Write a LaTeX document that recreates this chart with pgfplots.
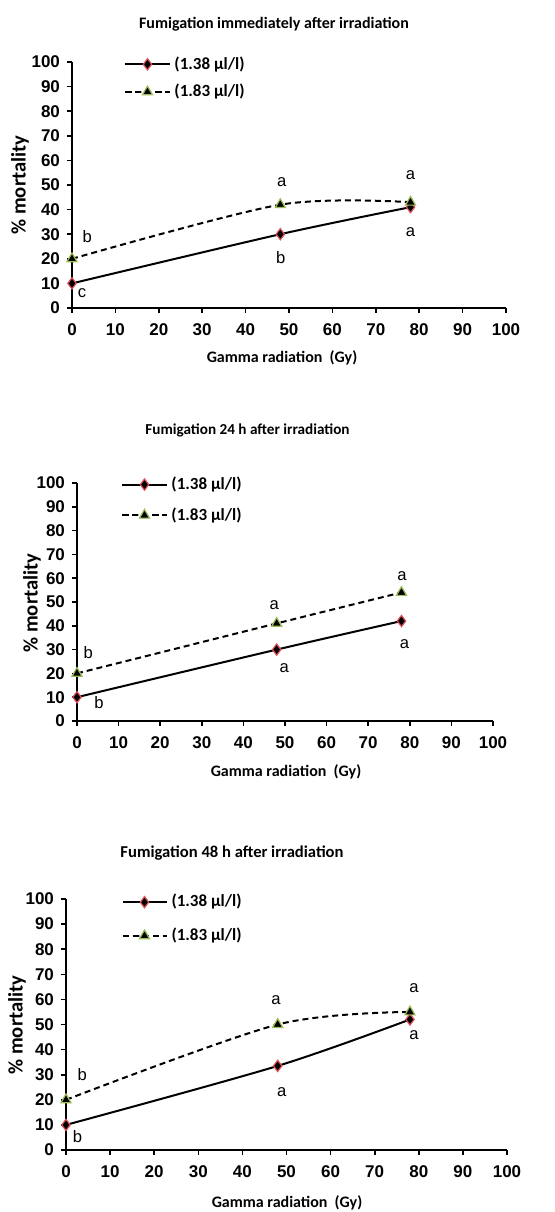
\documentclass[border=0pt]{standalone}
\usepackage{fontspec}
\setmainfont{Carlito}
\newfontfamily\arial{Liberation Sans}
\usepackage{pgfplots}
\pgfplotsset{compat=1.18}

\definecolor{diamedge}{HTML}{E0505A}
\definecolor{triedge}{HTML}{9BBB59}

\pgfplotsset{
  mortality/.style={
    scale only axis,
    anchor=south west,
    xmin=0, xmax=100, ymin=0, ymax=100,
    xtick={0,10,...,100}, ytick={0,10,...,100},
    axis x line*=bottom, axis y line*=left,
    axis line style={line width=1pt, -},
    tick style={line width=0.8pt, black},
    tick align=outside,
    major tick length=2.5pt,
    clip=false,
    /pgf/number format/assume math mode=true,
    tick label style={font=\arial\bfseries\fontsize{8.5}{10}\selectfont},
    xticklabel style={yshift=-2pt},
    legend cell align=left,
    legend style={draw=none, fill=none, font=\bfseries\fontsize{8.5}{10}\selectfont,
      inner sep=0pt, nodes={inner xsep=2pt, inner ysep=0.5pt}},
    legend image code/.code={
      \draw[mark repeat=2,mark phase=2] plot coordinates {(0pt,0pt)(11pt,0pt)(22pt,0pt)};},
  },
  low/.style={black, line width=1pt, smooth, mark=diamond*, mark size=2.8pt,
    mark options={solid, fill=black, draw=diamedge, line width=0.6pt}},
  high/.style={black, line width=1pt, smooth, dash pattern=on 3pt off 2pt, mark=triangle*, mark size=2.9pt,
    mark options={solid, fill=black, draw=triedge, line width=0.6pt}},
}
\newcommand{\lett}[1]{\arial\fontsize{8.3}{9}\selectfont #1}

\begin{document}
\begin{tikzpicture}
\useasboundingbox (0,0) rectangle (277.5pt,606pt);

% ---- panel 1: immediately after irradiation
\node[font=\bfseries\fontsize{8}{9}\selectfont] at (137pt,594pt) {Fumigation immediately after irradiation};
\node[font=\bfseries\fontsize{8}{9}\selectfont] at (141pt,427pt) {Gamma radiation\ \ (Gy)};
\node[font=\bfseries\fontsize{10.3}{11}\selectfont, rotate=90] at (10pt,513.5pt) {\% mortality};
\begin{axis}[mortality, at={(36pt,452pt)}, width=217pt, height=123pt,
  legend style={at={(0.12,1.028)}, anchor=north west, row sep=5pt}]
\addplot[low] coordinates {(0,10) (48,30) (78,41)};
\addlegendentry{(1.38 µl/l)}
\addplot[high] coordinates {(0,20) (48,42) (78,43)};
\addlegendentry{(1.83 µl/l)}
\node at (axis cs:3.5,29) {\lett{b}};
\node at (axis cs:2.3,6) {\lett{c}};
\node at (axis cs:48.3,51) {\lett{a}};
\node at (axis cs:48.1,20.3) {\lett{b}};
\node at (axis cs:78,54) {\lett{a}};
\node at (axis cs:78,31) {\lett{a}};
\end{axis}

% ---- panel 2: 24 h after irradiation
\node[font=\bfseries\fontsize{7.6}{9}\selectfont] at (123.75pt,391pt) {Fumigation 24 h after irradiation};
\node[font=\bfseries\fontsize{8}{9}\selectfont] at (143pt,220pt) {Gamma radiation\ \ (Gy)};
\node[font=\bfseries\fontsize{10.3}{11}\selectfont, rotate=90] at (16pt,304.5pt) {\% mortality};
\begin{axis}[mortality, at={(38.5pt,245.5pt)}, width=208pt, height=119pt,
  legend style={at={(0.106,1.032)}, anchor=north west, row sep=6.5pt}]
\addplot[low] coordinates {(0,10) (48,30) (78,42)};
\addlegendentry{(1.38 µl/l)}
\addplot[high] coordinates {(0,20) (48,41) (78,54)};
\addlegendentry{(1.83 µl/l)}
\node at (axis cs:2.7,28.6) {\lett{b}};
\node at (axis cs:5.3,7.6) {\lett{b}};
\node at (axis cs:47.4,48.7) {\lett{a}};
\node at (axis cs:49.8,22.3) {\lett{a}};
\node at (axis cs:78.1,60.9) {\lett{a}};
\node at (axis cs:78.7,32.4) {\lett{a}};
\end{axis}

% ---- panel 3: 48 h after irradiation
\node[font=\bfseries\fontsize{8.3}{9}\selectfont] at (116pt,179.5pt) {Fumigation 48 h after irradiation};
\node[font=\bfseries\fontsize{8}{9}\selectfont] at (143.5pt,4.5pt) {Gamma radiation\ \ (Gy)};
\node[font=\bfseries\fontsize{10.3}{11}\selectfont, rotate=90] at (8.5pt,93.5pt) {\% mortality};
\begin{axis}[mortality, at={(33pt,31pt)}, width=220.5pt, height=125.5pt,
  legend style={at={(0.125,1.024)}, anchor=north west, row sep=8pt}]
\addplot[low] coordinates {(0,10) (48,33.5) (78,52)};
\addlegendentry{(1.38 µl/l)}
\addplot[high] coordinates {(0,20) (48,50) (78,55)};
\addlegendentry{(1.83 µl/l)}
\node at (axis cs:3.7,29.9) {\lett{b}};
\node at (axis cs:2.6,5.3) {\lett{b}};
\node at (axis cs:47.6,59.8) {\lett{a}};
\node at (axis cs:48.9,23.2) {\lett{a}};
\node at (axis cs:78.9,64.5) {\lett{a}};
\node at (axis cs:78.9,45.8) {\lett{a}};
\end{axis}
\end{tikzpicture}
\end{document}
